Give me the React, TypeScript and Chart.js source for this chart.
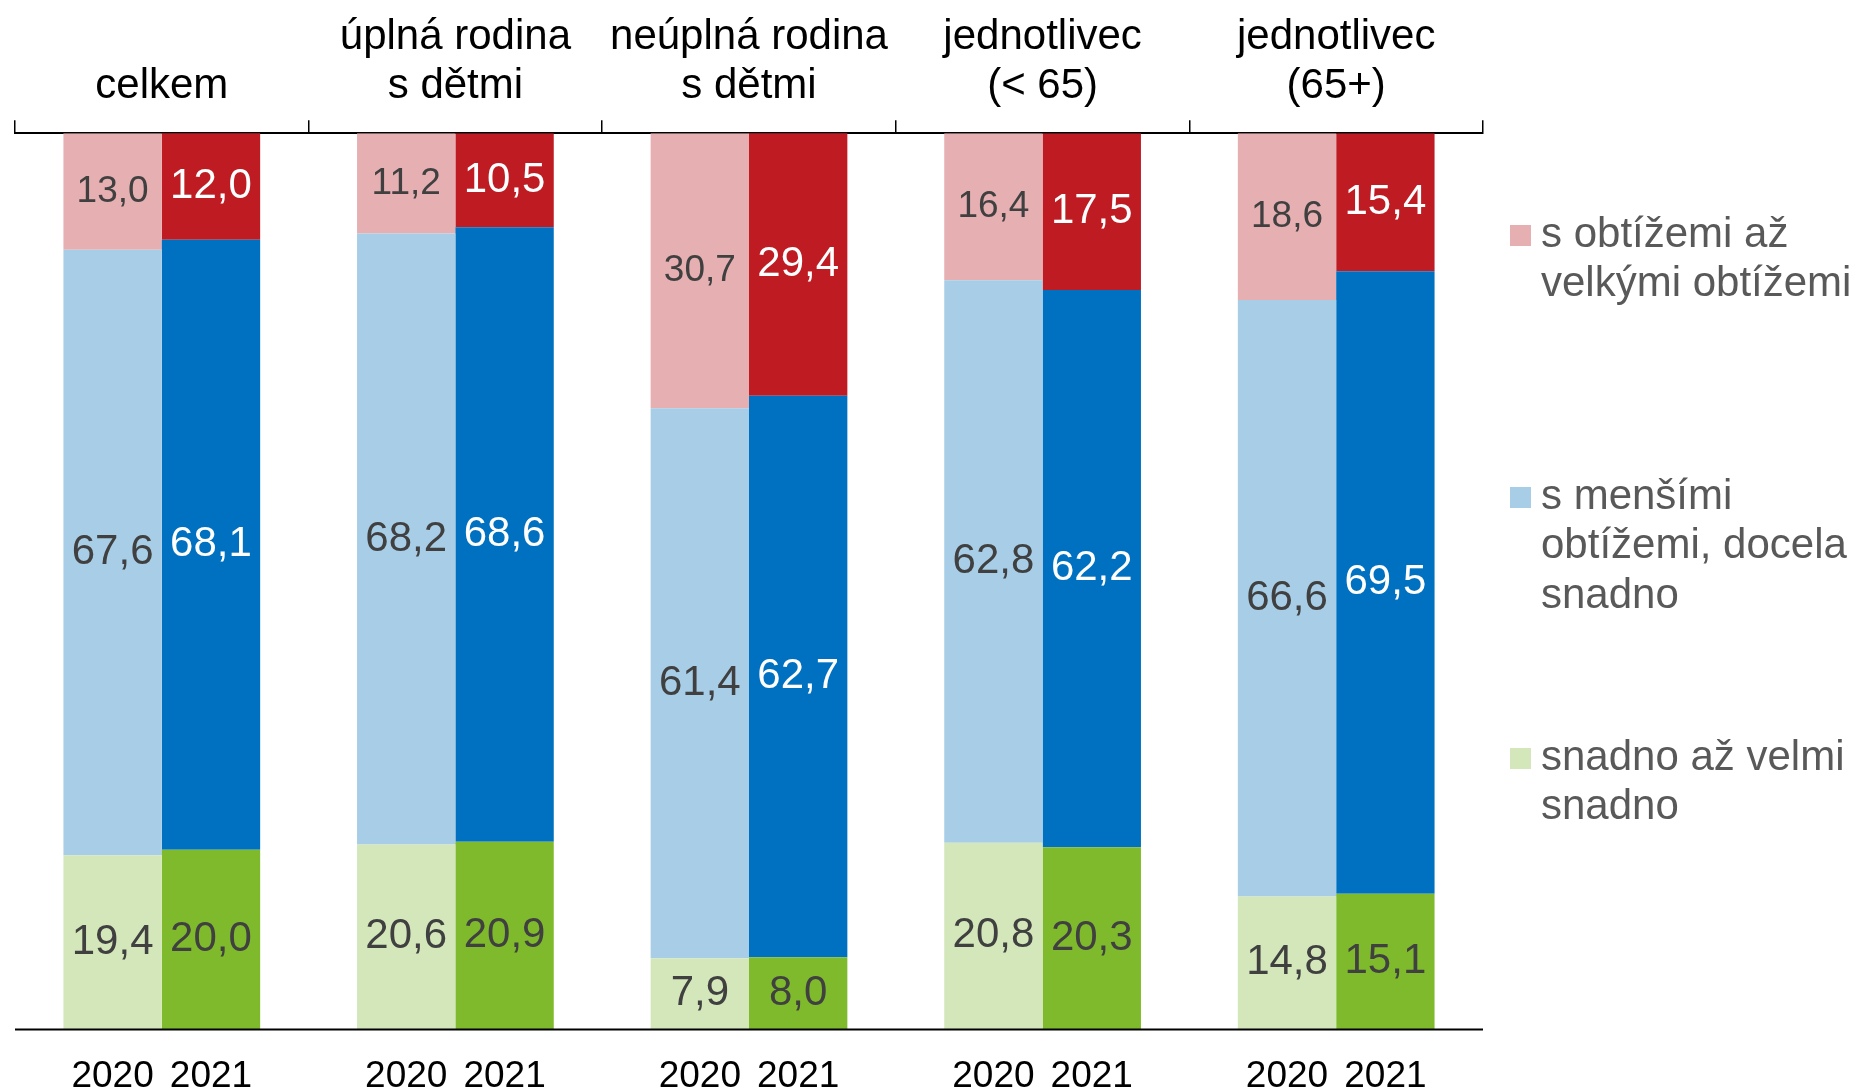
import React, { useEffect, useRef } from "react";
import { Chart, registerables } from "chart.js";

Chart.register(...registerables);

const categories: string[][] = [
  ["celkem"],
  ["úplná rodina", "s dětmi"],
  ["neúplná rodina", "s dětmi"],
  ["jednotlivec", "(< 65)"],
  ["jednotlivec", "(65+)"],
];
const years = ["2020", "2021"];

const green2020 = [19.4, 20.6, 7.9, 20.8, 14.8];
const green2021 = [20.0, 20.9, 8.0, 20.3, 15.1];
const blue2020 = [67.6, 68.2, 61.4, 62.8, 66.6];
const blue2021 = [68.1, 68.6, 62.7, 62.2, 69.5];
const red2020 = [13.0, 11.2, 30.7, 16.4, 18.6];
const red2021 = [12.0, 10.5, 29.4, 17.5, 15.4];

const legendLabels: string[][] = [
  ["s obtížemi až", "velkými obtížemi"],
  ["s menšími", "obtížemi, docela", "snadno"],
  ["snadno až velmi", "snadno"],
];

const COLORS = {
  green2020: "#D3E7BA",
  green2021: "#7FBA2C",
  blue2020: "#A7CDE7",
  blue2021: "#0070C0",
  red2020: "#E6AFB2",
  red2021: "#BE1B23",
};

const FONT = "'Liberation Sans', Arial, sans-serif";

export default function App() {
  const ref = useRef<HTMLCanvasElement | null>(null);

  useEffect(() => {
    if (!ref.current) return;

    const valueLabels = {
      id: "valueLabels",
      afterDatasetsDraw(chart: any) {
        const ctx = chart.ctx;
        ctx.save();
        ctx.textAlign = "center";
        ctx.textBaseline = "middle";
        chart.data.datasets.forEach((ds: any, i: number) => {
          const meta = chart.getDatasetMeta(i);
          meta.data.forEach((el: any, j: number) => {
            const v = ds.data[j];
            const is2021 = ds.stack === "2021";
            const isRed = ds.group === "red";
            const isBlue = ds.group === "blue";
            const size = !is2021 && isRed ? 37 : 42;
            ctx.font = `${size}px ${FONT}`;
            ctx.fillStyle = is2021 && (isRed || isBlue) ? "#FFFFFF" : "#404040";
            const y = (el.y + el.base) / 2;
            ctx.fillText(v.toFixed(1).replace(".", ","), el.x, y);
          });
        });
        // bottom axis line
        const a = chart.chartArea;
        ctx.strokeStyle = "#000";
        ctx.lineWidth = 2;
        ctx.beginPath();
        ctx.moveTo(a.left, a.bottom + 0.5);
        ctx.lineTo(a.right, a.bottom + 0.5);
        ctx.stroke();
        // year labels under bars
        ctx.fillStyle = "#000";
        ctx.font = `37px ${FONT}`;
        [0, 1].forEach((di) => {
          const meta = chart.getDatasetMeta(di);
          meta.data.forEach((el: any) => {
            ctx.fillText(years[di], el.x, a.bottom + 48);
          });
        });
        // legend
        const legendColors = [COLORS.red2020, COLORS.blue2020, COLORS.green2020];
        const legendY = [235, 497, 758];
        const boxX = a.right + 27;
        const textX = a.right + 58;
        ctx.textAlign = "left";
        ctx.font = `42px ${FONT}`;
        legendLabels.forEach((lines, k) => {
          ctx.fillStyle = legendColors[k];
          ctx.fillRect(boxX, legendY[k] - 10, 21, 21);
          ctx.fillStyle = "#595959";
          lines.forEach((ln, li) => {
            ctx.fillText(ln, textX, legendY[k] + li * 49.5);
          });
        });
        ctx.restore();
      },
    };

    const chart = new Chart(ref.current, {
      type: "bar",
      data: {
        labels: categories,
        datasets: [
          { label: "snadno až velmi snadno", data: green2020, stack: "2020", backgroundColor: COLORS.green2020, group: "green" } as any,
          { label: "snadno až velmi snadno", data: green2021, stack: "2021", backgroundColor: COLORS.green2021, group: "green" } as any,
          { label: "s menšími obtížemi, docela snadno", data: blue2020, stack: "2020", backgroundColor: COLORS.blue2020, group: "blue" } as any,
          { label: "s menšími obtížemi, docela snadno", data: blue2021, stack: "2021", backgroundColor: COLORS.blue2021, group: "blue" } as any,
          { label: "s obtížemi až velkými obtížemi", data: red2020, stack: "2020", backgroundColor: COLORS.red2020, group: "red" } as any,
          { label: "s obtížemi až velkými obtížemi", data: red2021, stack: "2021", backgroundColor: COLORS.red2021, group: "red" } as any,
        ],
      },
      options: {
        animation: false,
        responsive: false,
        maintainAspectRatio: false,
        layout: { padding: { left: 15, right: 378, top: 4, bottom: 60 } },
        datasets: { bar: { categoryPercentage: 0.67, barPercentage: 1.0, borderWidth: 0 } },
        plugins: {
          legend: { display: false },
          tooltip: { enabled: false },
        },
        scales: {
          x: {
            position: "top",
            stacked: true,
            offset: true,
            grid: {
              display: true,
              offset: true,
              drawOnChartArea: false,
              drawTicks: true,
              tickLength: 13,
              color: "#000",
              lineWidth: 1.5,
            },
            border: { display: true, color: "#000", width: 2 },
            ticks: {
              color: "#000",
              padding: 9,
              maxRotation: 0,
              autoSkip: false,
              font: { family: FONT, size: 42, lineHeight: 1.17 },
            },
          },
          y: {
            display: false,
            stacked: true,
            min: 0,
            max: 100,
          },
        },
      },
      plugins: [valueLabels],
    });
    return () => chart.destroy();
  }, []);

  return (
    <div style={{ position: "fixed", left: 0, top: 0, width: 1861, height: 1089, background: "#fff" }}>
      <canvas ref={ref} width={1861} height={1089} style={{ display: "block", width: 1861, height: 1089 }} />
    </div>
  );
}
